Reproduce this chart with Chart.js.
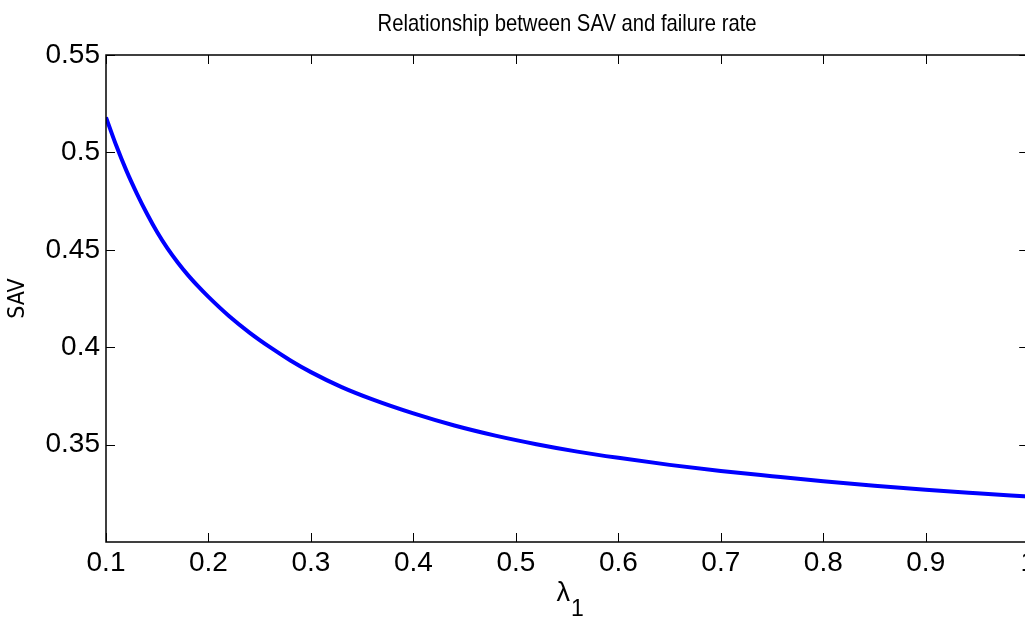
<!DOCTYPE html>
<html>
<head>
<meta charset="utf-8">
<script src="https://cdn.jsdelivr.net/npm/chart.js@4"></script>
<style>
    html, body { margin: 0; padding: 0; background: #fff; overflow: hidden; }
    #wrap { position: relative; width: 1040px; height: 617px; }
</style>
</head>
<body>
<div id="wrap"><canvas id="savChart"></canvas></div>
<script>
// values
const lambdaVals = [0.10, 0.11, 0.12, 0.13, 0.14, 0.15, 0.16, 0.17, 0.18, 0.19, 0.20, 0.22, 0.24, 0.26, 0.28, 0.30,
    0.33, 0.36, 0.40, 0.44, 0.48, 0.52, 0.56, 0.60, 0.65, 0.70, 0.75, 0.80, 0.85, 0.90, 0.95, 1.00];
const savVals = [0.518, 0.5035, 0.4905, 0.4790, 0.4685, 0.4590, 0.4507, 0.4435, 0.437, 0.4312, 0.4258, 0.4160, 0.4075, 0.4000, 0.3932, 0.3872,
    0.3795, 0.3732, 0.3660, 0.3598, 0.3546, 0.3502, 0.3464, 0.3432, 0.3396, 0.3365, 0.3338, 0.3312, 0.3289, 0.3268, 0.325, 0.3233];
const xTicks = [0.1, 0.2, 0.3, 0.4, 0.5, 0.6, 0.7, 0.8, 0.9, 1];
const yTicks = [0.35, 0.4, 0.45, 0.5, 0.55];
const titleText = 'Relationship between SAV and failure rate';

const narrowFont = "'Liberation Sans Narrow', 'DejaVu Sans Condensed', 'Arial Narrow', sans-serif";
const tickFont = "'Liberation Sans', Arial, sans-serif";

document.addEventListener('DOMContentLoaded', function () {
    const ctx = document.getElementById('savChart').getContext('2d');

    // MATLAB style box with inward ticks on all four sides, condensed title and the lambda_1 label
    const matlabFrame = {
        id: 'matlabFrame',
        afterDraw(chart) {
            const c = chart.ctx;
            const a = chart.chartArea;
            const xs = chart.scales.x;
            const ys = chart.scales.y;
            const len = 9;
            c.save();
            c.strokeStyle = '#000';
            c.lineWidth = 1;
            c.beginPath();
            xTicks.forEach(v => {
                const px = Math.round(xs.getPixelForValue(v)) + 0.5;
                c.moveTo(px, a.bottom); c.lineTo(px, a.bottom - len);
                c.moveTo(px, a.top); c.lineTo(px, a.top + len);
            });
            yTicks.forEach(v => {
                const py = Math.round(ys.getPixelForValue(v)) + 0.5;
                c.moveTo(a.left, py); c.lineTo(a.left + len, py);
                c.moveTo(a.right, py); c.lineTo(a.right - len, py);
            });
            c.stroke();
            c.lineWidth = 1.5;
            c.strokeRect(a.left, a.top, a.right - a.left, a.bottom - a.top);

            const cx = (a.left + a.right) / 2;
            c.fillStyle = '#000';

            // title, squeezed sideways like the original condensed face
            c.font = '24px ' + tickFont;
            c.textAlign = 'center';
            c.textBaseline = 'alphabetic';
            const sx = 379 / c.measureText(titleText).width;
            c.save();
            c.translate(cx, 31);
            c.scale(sx, 1);
            c.fillText(titleText, 0, 0);
            c.restore();

            c.textAlign = 'right';
            c.font = '27px ' + tickFont;
            c.fillText('λ', cx + 3, 601);
            c.textAlign = 'left';
            c.font = '23px ' + tickFont;
            c.fillText('1', cx + 4, 616);
            c.restore();
        }
    };

    new Chart(ctx, {
        type: 'line',
        data: {
            datasets: [{
                label: 'SAV',
                data: lambdaVals.map((l, i) => ({ x: l, y: savVals[i] })),
                borderColor: '#0000ff',
                borderWidth: 4,
                pointRadius: 0,
                cubicInterpolationMode: 'monotone',
                fill: false
            }]
        },
        options: {
            responsive: true,
            maintainAspectRatio: false,
            animation: false,
            devicePixelRatio: 1,
            layout: { padding: { left: 0, right: 11, top: 55, bottom: 0 } },
            plugins: {
                legend: { display: false },
                tooltip: { enabled: false },
                title: { display: false, text: titleText }
            },
            scales: {
                x: {
                    type: 'linear',
                    min: 0.1,
                    max: 1,
                    afterBuildTicks: s => { s.ticks = xTicks.map(v => ({ value: v })); },
                    afterFit: s => { s.height = 75; },
                    grid: { display: false, drawTicks: false },
                    border: { display: false },
                    ticks: {
                        color: '#000',
                        padding: 4,
                        maxRotation: 0,
                        autoSkip: false,
                        font: { family: tickFont, size: 28 },
                        callback: v => String(+v.toFixed(2))
                    }
                },
                y: {
                    min: 0.3,
                    max: 0.55,
                    afterBuildTicks: s => { s.ticks = yTicks.map(v => ({ value: v })); },
                    afterFit: s => { s.width = 106; },
                    grid: { display: false, drawTicks: false },
                    border: { display: false },
                    title: {
                        display: true,
                        text: 'SAV',
                        color: '#000',
                        font: { family: narrowFont, size: 23 },
                        padding: { top: 4, bottom: 0 }
                    },
                    ticks: {
                        color: '#000',
                        padding: 6,
                        autoSkip: false,
                        font: { family: tickFont, size: 28 },
                        callback: v => String(+v.toFixed(2))
                    }
                }
            }
        },
        plugins: [matlabFrame]
    });
});
</script>
</body>
</html>
